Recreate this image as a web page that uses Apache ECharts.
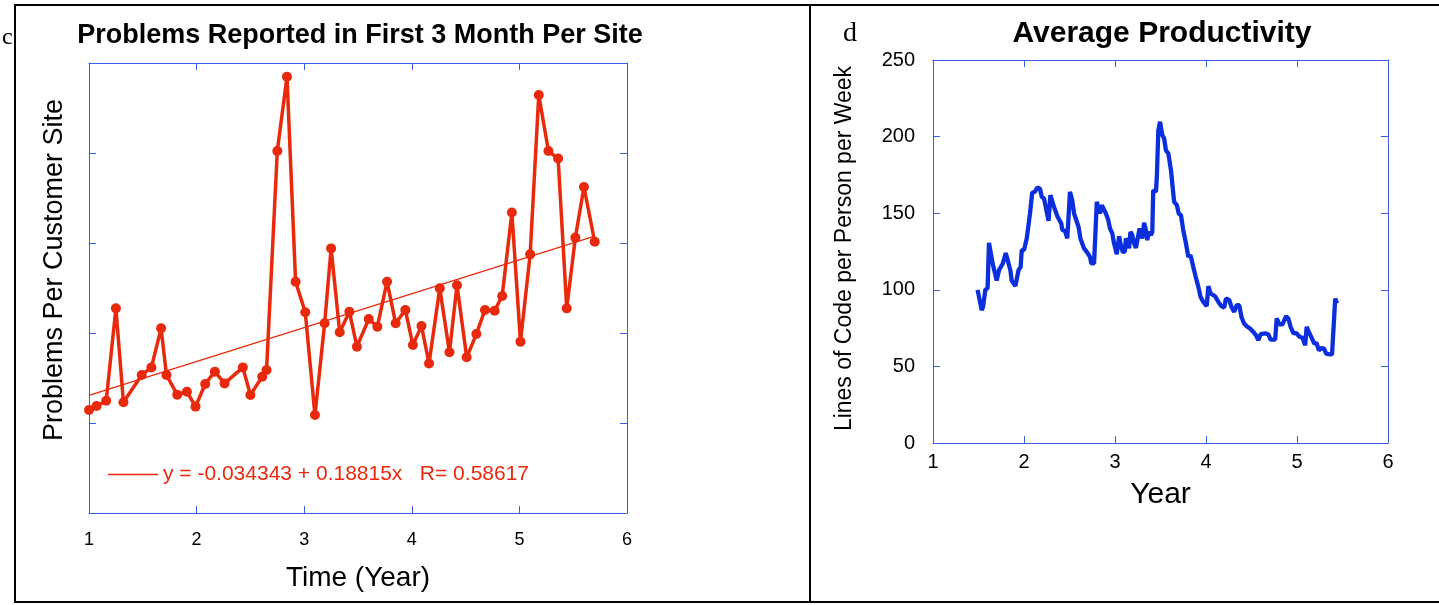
<!DOCTYPE html>
<html>
<head>
<meta charset="utf-8">
<script src="https://cdn.jsdelivr.net/npm/echarts@6/dist/echarts.min.js"></script>
<style>
html,body{margin:0;padding:0;background:#fff;}
#chart{width:1439px;height:605px;}
</style>
</head>
<body>
<div id="chart"></div>
<script>
// ---- Data: left panel (problems reported per customer site) ----
const probX = [1.0,1.07,1.16,1.25,1.32,1.49,1.58,1.67,1.72,1.82,1.91,1.99,2.08,2.17,2.26,2.43,2.50,2.61,2.65,2.75,2.84,2.92,3.01,3.10,3.19,3.25,3.33,3.42,3.49,3.60,3.68,3.77,3.85,3.94,4.01,4.09,4.16,4.26,4.35,4.42,4.51,4.60,4.68,4.77,4.84,4.93,5.01,5.10,5.18,5.27,5.36,5.44,5.52,5.60,5.70];
const probY = [0.072,0.094,0.124,0.637,0.115,0.267,0.309,0.526,0.267,0.157,0.174,0.091,0.217,0.285,0.220,0.309,0.156,0.257,0.294,1.511,1.924,0.785,0.615,0.044,0.554,0.970,0.504,0.618,0.424,0.578,0.535,0.785,0.554,0.628,0.433,0.539,0.331,0.748,0.393,0.765,0.365,0.494,0.628,0.624,0.706,1.169,0.452,0.937,1.822,1.511,1.469,0.637,1.030,1.311,1.007];
const fitIntercept = -0.034343;
const fitSlope = 0.18815;
const fitR = 0.58617;
const fitRange = [1.0, 5.7];
const leftXTicks = [1,6,1];
const leftYRange = [-0.5, 2.0, 0.5];

// ---- Data: right panel (average productivity) ----
const prodX = [1.49,1.535,1.55,1.575,1.6,1.615,1.656,1.70,1.725,1.766,1.80,1.85,1.865,1.905,1.94,1.963,1.975,2.0,2.03,2.066,2.09,2.12,2.146,2.176,2.195,2.22,2.27,2.29,2.33,2.37,2.41,2.42,2.45,2.476,2.505,2.53,2.55,2.60,2.62,2.66,2.69,2.71,2.725,2.74,2.77,2.80,2.82,2.835,2.855,2.87,2.90,2.926,2.945,2.97,2.99,3.02,3.045,3.06,3.085,3.107,3.12,3.14,3.155,3.17,3.19,3.21,3.23,3.25,3.27,3.29,3.30,3.32,3.34,3.355,3.37,3.395,3.41,3.42,3.45,3.46,3.476,3.495,3.52,3.54,3.56,3.586,3.615,3.65,3.68,3.70,3.725,3.75,3.78,3.806,3.83,3.86,3.887,3.916,3.94,3.97,4.008,4.026,4.05,4.10,4.136,4.17,4.20,4.22,4.256,4.28,4.31,4.337,4.366,4.39,4.418,4.447,4.484,4.52,4.55,4.575,4.60,4.65,4.685,4.71,4.76,4.777,4.806,4.84,4.88,4.905,4.93,4.96,4.996,5.03,5.06,5.09,5.106,5.135,5.16,5.19,5.215,5.24,5.27,5.297,5.32,5.36,5.385,5.42,5.44];
const prodY = [100,86.7,88.8,100,101,130.6,117,106,112.8,117,124,112.8,106,102.4,112.8,115,125.9,125.9,133.5,149.8,163.3,164,166.8,166,160.7,159.6,145,161.8,154,147.6,143.3,139,138.5,133.5,164,158.5,149.8,141,133.5,127,124.8,124.8,121.5,117.2,117.2,157.4,156.4,149.8,155.3,155.3,149.8,145.5,140,136.8,130.2,123.3,135,130.2,124.8,124.8,133.5,131.3,127,137.8,135.7,130.2,127.4,128,140,139,133.5,143.7,139,132.4,137.8,135.7,137.8,165,164,173.8,204,209.7,201,198.8,191,189,178,157.4,155.3,149.8,148.7,139,130.2,121.5,122.6,115,108.4,101.9,95.4,92.1,89.3,102.4,97.6,95.8,92.1,89.3,88.4,94.3,93.2,88.8,85.6,89.9,89.9,82.3,78,76.2,74.7,72.5,70.3,67.1,71,71.5,71,67.5,67.5,81.3,77.5,77.5,82.8,81.3,75.8,71.8,71.5,69.2,68.8,63.8,75.8,71.8,68.8,64.9,65.3,60.5,62,61.6,58.4,57.9,57.9,94.3,91];
const rightXTicks = [1,6,1];
const rightYRange = [0,250,50];

const RED = '#e8290b';
const BLUE = '#0b2fdc';
const AXIS = '#3a5cf0';
const FONT = '"Liberation Sans", Arial, sans-serif';

const probData = probX.map((x,i)=>[x, probY[i]]);
const prodData = prodX.map((x,i)=>[x, prodY[i]]);
const fitData = fitRange.map(x=>[x, fitIntercept + fitSlope*x]);
const legendText = 'y = ' + fitIntercept + ' + ' + fitSlope + 'x   R= ' + fitR;

function xAx(grid, pos, r, showLabel, extra){
  return Object.assign({
    type:'value', gridIndex:grid, position:pos, min:r[0], max:r[1], interval:r[2],
    axisLine:{show:true, onZero:false, lineStyle:{color:AXIS, width:1}},
    axisTick:{show:true, inside:true, length:7, lineStyle:{color:AXIS}},
    axisLabel:{show:showLabel, color:'#000', fontFamily:FONT, fontSize:18},
    splitLine:{show:false}
  }, extra||{});
}
function yAx(grid, pos, r, showLabel, extra){
  return Object.assign({
    type:'value', gridIndex:grid, position:pos, min:r[0], max:r[1], interval:r[2],
    axisLine:{show:true, onZero:false, lineStyle:{color:AXIS, width:1}},
    axisTick:{show:true, inside:true, length:7, lineStyle:{color:AXIS}},
    axisLabel:{show:showLabel, color:'#000', fontFamily:FONT, fontSize:20},
    splitLine:{show:false}
  }, extra||{});
}

const chart = echarts.init(document.getElementById('chart'), null, {renderer:'canvas'});
chart.setOption({
  animation:false,
  backgroundColor:'#fff',
  title:[
    {text:'Problems Reported in First 3 Month Per Site', left:355, top:17, textAlign:'center',
     textStyle:{fontFamily:FONT, fontWeight:'bold', fontSize:27, color:'#000'}},
    {text:'Average Productivity', left:1157, top:14, textAlign:'center',
     textStyle:{fontFamily:FONT, fontWeight:'bold', fontSize:30, color:'#000'}}
  ],
  legend:{
    data:[{name:legendText, icon:'rect'}], left:108, top:464, padding:0, itemWidth:50, itemHeight:1.3, itemGap:5,
    itemStyle:{color:RED},
    textStyle:{color:RED, fontFamily:FONT, fontSize:21}, selectedMode:false
  },
  grid:[
    {left:89, top:63, width:538, height:450},
    {left:933, top:60, width:455, height:383}
  ],
  xAxis:[
    xAx(0,'bottom',leftXTicks,true,{name:'Time (Year)', nameLocation:'middle', nameGap:51,
      nameTextStyle:{fontFamily:FONT, fontSize:28, color:'#000'},
      axisLabel:{show:true, color:'#000', fontFamily:FONT, fontSize:18, margin:18}}),
    xAx(0,'top',leftXTicks,false),
    xAx(1,'bottom',rightXTicks,true,{name:'Year', nameLocation:'middle', nameGap:37,
      nameTextStyle:{fontFamily:FONT, fontSize:30, color:'#000'},
      axisLabel:{show:true, color:'#000', fontFamily:FONT, fontSize:20, margin:9}}),
    xAx(1,'top',rightXTicks,false)
  ],
  yAxis:[
    yAx(0,'left',leftYRange,false,{name:'Problems Per Customer Site', nameLocation:'middle', nameGap:21,
      nameTextStyle:{fontFamily:FONT, fontSize:27, color:'#000', padding:[0,0,0,36]}}),
    yAx(0,'right',leftYRange,false),
    yAx(1,'left',rightYRange,true,{name:'Lines of Code per Person per Week', nameLocation:'middle', nameGap:77,
      nameTextStyle:{fontFamily:FONT, fontSize:23, color:'#000', padding:[0,0,0,6]},
      axisLabel:{show:true, color:'#000', fontFamily:FONT, fontSize:20, margin:18}}),
    yAx(1,'right',rightYRange,false)
  ],
  series:[
    {name:legendText, type:'line', xAxisIndex:0, yAxisIndex:0, data:fitData, symbol:'none',
     lineStyle:{color:RED, width:1.2}, itemStyle:{color:RED}, z:2},
    {name:'problems', type:'line', xAxisIndex:0, yAxisIndex:0, data:probData, symbol:'circle', symbolSize:10,
     lineStyle:{color:RED, width:3.5}, itemStyle:{color:RED}, z:3},
    {name:'productivity', type:'line', xAxisIndex:2, yAxisIndex:2, data:prodData, symbol:'none',
     lineStyle:{color:BLUE, width:4.3}, z:3}
  ],
  graphic:[
    {type:'line', shape:{x1:14, y1:5, x2:1439, y2:5}, style:{stroke:'#000', lineWidth:2}},
    {type:'line', shape:{x1:15, y1:4, x2:15, y2:603}, style:{stroke:'#000', lineWidth:2}},
    {type:'line', shape:{x1:14, y1:602, x2:1439, y2:602}, style:{stroke:'#000', lineWidth:2}},
    {type:'line', shape:{x1:810, y1:5, x2:810, y2:602}, style:{stroke:'#000', lineWidth:2}},
    {type:'text', left:2, top:26, style:{text:'c', font:'24px "Liberation Serif", serif', fill:'#000'}},
    {type:'text', left:843, top:20, style:{text:'d', font:'28px "Liberation Serif", serif', fill:'#000'}}
  ]
});
</script>
</body>
</html>
